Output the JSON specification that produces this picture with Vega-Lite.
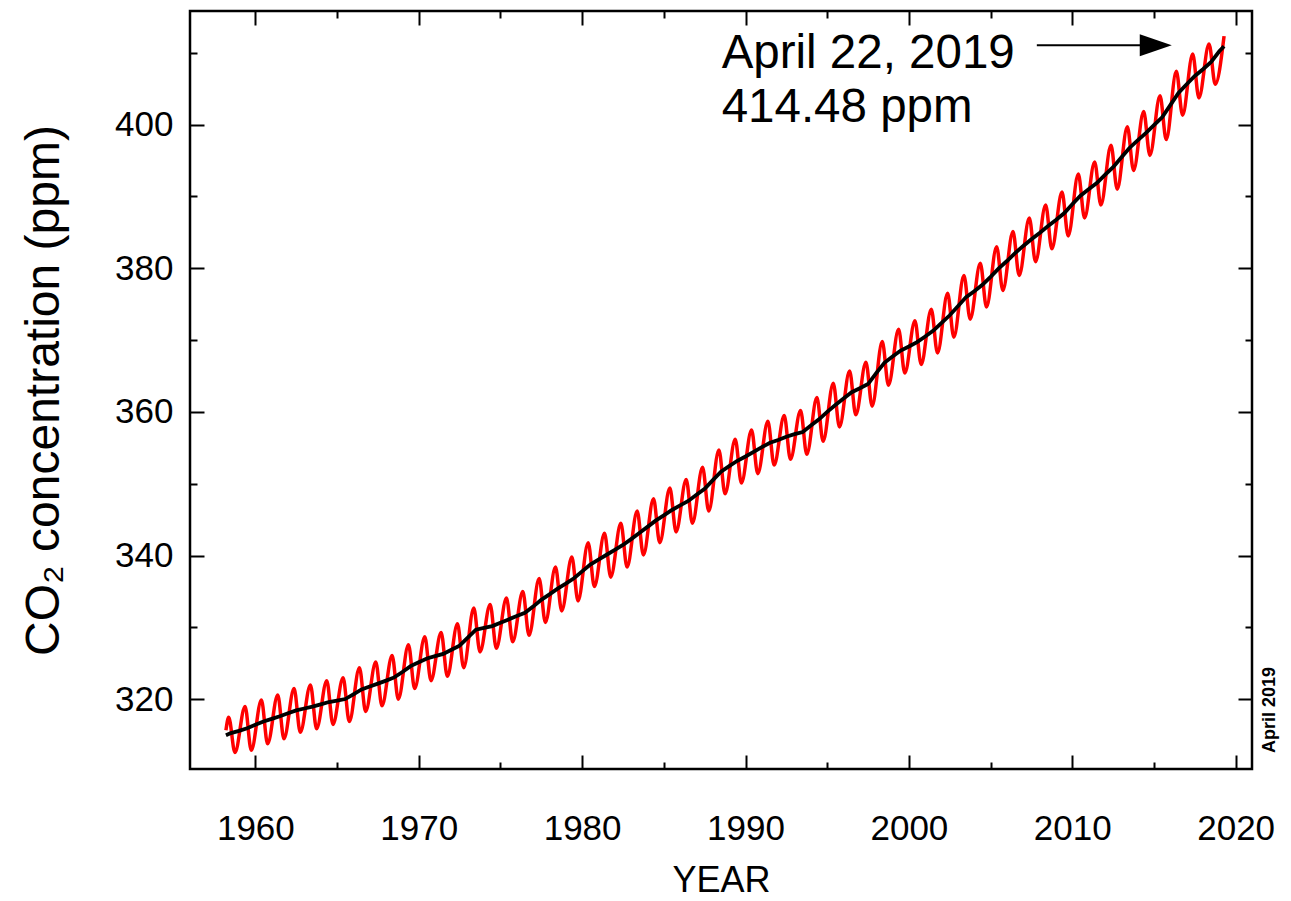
{
  "$schema": "https://vega.github.io/schema/vega-lite/v6.json",
  "width": 1062,
  "height": 758,
  "autosize": "none",
  "padding": {"left": 190, "top": 11, "right": 39, "bottom": 132},
  "background": "white",
  "config": {
    "view": {"stroke": "black", "strokeWidth": 2.5},
    "font": "Liberation Sans",
    "axis": {"labelColor": "black", "titleColor": "black", "tickColor": "black", "tickWidth": 2, "domain": false, "grid": false}
  },
  "datasets": {
    "red": [
      {"year": 1958.2, "co2": 315.7},
      {"year": 1958.37, "co2": 317.5}, {"year": 1958.75, "co2": 312.6},
      {"year": 1959.37, "co2": 319.0}, {"year": 1959.75, "co2": 312.9},
      {"year": 1960.37, "co2": 319.9}, {"year": 1960.75, "co2": 313.8},
      {"year": 1961.37, "co2": 320.6}, {"year": 1961.75, "co2": 314.5},
      {"year": 1962.37, "co2": 321.5}, {"year": 1962.75, "co2": 315.4},
      {"year": 1963.37, "co2": 322.0}, {"year": 1963.75, "co2": 315.9},
      {"year": 1964.37, "co2": 322.6}, {"year": 1964.75, "co2": 316.5},
      {"year": 1965.37, "co2": 323.0}, {"year": 1965.75, "co2": 316.9},
      {"year": 1966.37, "co2": 324.4}, {"year": 1966.75, "co2": 318.3},
      {"year": 1967.37, "co2": 325.2}, {"year": 1967.75, "co2": 319.1},
      {"year": 1968.37, "co2": 326.1}, {"year": 1968.75, "co2": 320.0},
      {"year": 1969.37, "co2": 327.6}, {"year": 1969.75, "co2": 321.5},
      {"year": 1970.37, "co2": 328.7}, {"year": 1970.75, "co2": 322.6},
      {"year": 1971.37, "co2": 329.3}, {"year": 1971.75, "co2": 323.2},
      {"year": 1972.37, "co2": 330.5}, {"year": 1972.75, "co2": 324.4},
      {"year": 1973.37, "co2": 332.7}, {"year": 1973.75, "co2": 326.6},
      {"year": 1974.37, "co2": 333.2}, {"year": 1974.75, "co2": 327.1},
      {"year": 1975.37, "co2": 334.1}, {"year": 1975.75, "co2": 328.0},
      {"year": 1976.37, "co2": 335.0}, {"year": 1976.75, "co2": 328.9},
      {"year": 1977.37, "co2": 336.8}, {"year": 1977.75, "co2": 330.7},
      {"year": 1978.37, "co2": 338.4}, {"year": 1978.75, "co2": 332.3},
      {"year": 1979.37, "co2": 339.8}, {"year": 1979.75, "co2": 333.7},
      {"year": 1980.37, "co2": 341.8}, {"year": 1980.75, "co2": 335.7},
      {"year": 1981.37, "co2": 343.1}, {"year": 1981.75, "co2": 337.0},
      {"year": 1982.37, "co2": 344.5}, {"year": 1982.75, "co2": 338.4},
      {"year": 1983.37, "co2": 346.2}, {"year": 1983.75, "co2": 340.1},
      {"year": 1984.37, "co2": 347.9}, {"year": 1984.75, "co2": 341.8},
      {"year": 1985.37, "co2": 349.4}, {"year": 1985.75, "co2": 343.3},
      {"year": 1986.37, "co2": 350.6}, {"year": 1986.75, "co2": 344.5},
      {"year": 1987.37, "co2": 352.3}, {"year": 1987.75, "co2": 346.2},
      {"year": 1988.37, "co2": 354.7}, {"year": 1988.75, "co2": 348.6},
      {"year": 1989.37, "co2": 356.2}, {"year": 1989.75, "co2": 350.1},
      {"year": 1990.37, "co2": 357.5}, {"year": 1990.75, "co2": 351.4},
      {"year": 1991.37, "co2": 358.7}, {"year": 1991.75, "co2": 352.6},
      {"year": 1992.37, "co2": 359.5}, {"year": 1992.75, "co2": 353.4},
      {"year": 1993.37, "co2": 360.2}, {"year": 1993.75, "co2": 354.1},
      {"year": 1994.37, "co2": 362.0}, {"year": 1994.75, "co2": 355.9},
      {"year": 1995.37, "co2": 364.0}, {"year": 1995.75, "co2": 357.9},
      {"year": 1996.37, "co2": 365.7}, {"year": 1996.75, "co2": 359.6},
      {"year": 1997.37, "co2": 366.9}, {"year": 1997.75, "co2": 360.8},
      {"year": 1998.37, "co2": 369.8}, {"year": 1998.75, "co2": 363.7},
      {"year": 1999.37, "co2": 371.5}, {"year": 1999.75, "co2": 365.4},
      {"year": 2000.37, "co2": 372.7}, {"year": 2000.75, "co2": 366.6},
      {"year": 2001.37, "co2": 374.3}, {"year": 2001.75, "co2": 368.2},
      {"year": 2002.37, "co2": 376.5}, {"year": 2002.75, "co2": 370.4},
      {"year": 2003.37, "co2": 379.0}, {"year": 2003.75, "co2": 372.9},
      {"year": 2004.37, "co2": 380.7}, {"year": 2004.75, "co2": 374.6},
      {"year": 2005.37, "co2": 383.0}, {"year": 2005.75, "co2": 376.9},
      {"year": 2006.37, "co2": 385.1}, {"year": 2006.75, "co2": 379.0},
      {"year": 2007.37, "co2": 387.0}, {"year": 2007.75, "co2": 380.9},
      {"year": 2008.37, "co2": 388.8}, {"year": 2008.75, "co2": 382.7},
      {"year": 2009.37, "co2": 390.6}, {"year": 2009.75, "co2": 384.5},
      {"year": 2010.37, "co2": 393.1}, {"year": 2010.75, "co2": 387.0},
      {"year": 2011.37, "co2": 394.8}, {"year": 2011.75, "co2": 388.8},
      {"year": 2012.37, "co2": 397.1}, {"year": 2012.75, "co2": 391.0},
      {"year": 2013.37, "co2": 399.7}, {"year": 2013.75, "co2": 393.6},
      {"year": 2014.37, "co2": 401.8}, {"year": 2014.75, "co2": 395.7},
      {"year": 2015.37, "co2": 404.0}, {"year": 2015.75, "co2": 397.9},
      {"year": 2016.37, "co2": 407.4}, {"year": 2016.75, "co2": 401.3},
      {"year": 2017.37, "co2": 409.8}, {"year": 2017.75, "co2": 403.7},
      {"year": 2018.37, "co2": 411.2}, {"year": 2018.75, "co2": 405.6},
      {"year": 2019.29, "co2": 412.3}
    ],
    "trend": [
      {"year": 1958.2, "co2": 315.0}, {"year": 1958.5, "co2": 315.3},
      {"year": 1959.0, "co2": 315.6}, {"year": 1959.5, "co2": 315.98},
      {"year": 1960.0, "co2": 316.45}, {"year": 1960.5, "co2": 316.91},
      {"year": 1961.0, "co2": 317.28}, {"year": 1961.5, "co2": 317.64},
      {"year": 1962.0, "co2": 318.05}, {"year": 1962.5, "co2": 318.45},
      {"year": 1963.0, "co2": 318.72}, {"year": 1963.5, "co2": 318.99},
      {"year": 1964.0, "co2": 319.3}, {"year": 1964.5, "co2": 319.62},
      {"year": 1965.0, "co2": 319.83}, {"year": 1965.5, "co2": 320.04},
      {"year": 1966.0, "co2": 320.7}, {"year": 1966.5, "co2": 321.37},
      {"year": 1967.0, "co2": 321.78}, {"year": 1967.5, "co2": 322.18},
      {"year": 1968.0, "co2": 322.6}, {"year": 1968.5, "co2": 323.05},
      {"year": 1969.0, "co2": 323.8}, {"year": 1969.5, "co2": 324.62},
      {"year": 1970.0, "co2": 325.15}, {"year": 1970.5, "co2": 325.68},
      {"year": 1971.0, "co2": 326.0}, {"year": 1971.5, "co2": 326.32},
      {"year": 1972.0, "co2": 326.9}, {"year": 1972.5, "co2": 327.46},
      {"year": 1973.0, "co2": 328.57}, {"year": 1973.5, "co2": 329.68},
      {"year": 1974.0, "co2": 329.93}, {"year": 1974.5, "co2": 330.19},
      {"year": 1975.0, "co2": 330.65}, {"year": 1975.5, "co2": 331.12},
      {"year": 1976.0, "co2": 331.58}, {"year": 1976.5, "co2": 332.03},
      {"year": 1977.0, "co2": 332.9}, {"year": 1977.5, "co2": 333.84},
      {"year": 1978.0, "co2": 334.6}, {"year": 1978.5, "co2": 335.41},
      {"year": 1979.0, "co2": 336.1}, {"year": 1979.5, "co2": 336.84},
      {"year": 1980.0, "co2": 337.8}, {"year": 1980.5, "co2": 338.76},
      {"year": 1981.0, "co2": 339.44}, {"year": 1981.5, "co2": 340.12},
      {"year": 1982.0, "co2": 340.8}, {"year": 1982.5, "co2": 341.48},
      {"year": 1983.0, "co2": 342.3}, {"year": 1983.5, "co2": 343.15},
      {"year": 1984.0, "co2": 344.0}, {"year": 1984.5, "co2": 344.87},
      {"year": 1985.0, "co2": 345.6}, {"year": 1985.5, "co2": 346.35},
      {"year": 1986.0, "co2": 347.0}, {"year": 1986.5, "co2": 347.61},
      {"year": 1987.0, "co2": 348.46}, {"year": 1987.5, "co2": 349.31},
      {"year": 1988.0, "co2": 350.5}, {"year": 1988.5, "co2": 351.69},
      {"year": 1989.0, "co2": 352.45}, {"year": 1989.5, "co2": 353.2},
      {"year": 1990.0, "co2": 353.8}, {"year": 1990.5, "co2": 354.45},
      {"year": 1991.0, "co2": 355.1}, {"year": 1991.5, "co2": 355.7},
      {"year": 1992.0, "co2": 356.1}, {"year": 1992.5, "co2": 356.54},
      {"year": 1993.0, "co2": 356.9}, {"year": 1993.5, "co2": 357.21},
      {"year": 1994.0, "co2": 358.1}, {"year": 1994.5, "co2": 358.96},
      {"year": 1995.0, "co2": 360.0}, {"year": 1995.5, "co2": 360.97},
      {"year": 1996.0, "co2": 361.85}, {"year": 1996.5, "co2": 362.74},
      {"year": 1997.0, "co2": 363.3}, {"year": 1997.5, "co2": 363.88},
      {"year": 1998.0, "co2": 365.4}, {"year": 1998.5, "co2": 366.84},
      {"year": 1999.0, "co2": 367.7}, {"year": 1999.5, "co2": 368.54},
      {"year": 2000.0, "co2": 369.1}, {"year": 2000.5, "co2": 369.71},
      {"year": 2001.0, "co2": 370.5}, {"year": 2001.5, "co2": 371.32},
      {"year": 2002.0, "co2": 372.4}, {"year": 2002.5, "co2": 373.45},
      {"year": 2003.0, "co2": 374.7}, {"year": 2003.5, "co2": 375.98},
      {"year": 2004.0, "co2": 376.8}, {"year": 2004.5, "co2": 377.7},
      {"year": 2005.0, "co2": 378.8}, {"year": 2005.5, "co2": 379.98},
      {"year": 2006.0, "co2": 381.0}, {"year": 2006.5, "co2": 382.09},
      {"year": 2007.0, "co2": 383.1}, {"year": 2007.5, "co2": 384.02},
      {"year": 2008.0, "co2": 384.9}, {"year": 2008.5, "co2": 385.83},
      {"year": 2009.0, "co2": 386.7}, {"year": 2009.5, "co2": 387.64},
      {"year": 2010.0, "co2": 388.9}, {"year": 2010.5, "co2": 390.1},
      {"year": 2011.0, "co2": 391.0}, {"year": 2011.5, "co2": 391.85},
      {"year": 2012.0, "co2": 393.0}, {"year": 2012.5, "co2": 394.06},
      {"year": 2013.0, "co2": 395.4}, {"year": 2013.5, "co2": 396.74},
      {"year": 2014.0, "co2": 397.8}, {"year": 2014.5, "co2": 398.81},
      {"year": 2015.0, "co2": 399.9}, {"year": 2015.5, "co2": 401.01},
      {"year": 2016.0, "co2": 402.7}, {"year": 2016.5, "co2": 404.41},
      {"year": 2017.0, "co2": 405.6}, {"year": 2017.5, "co2": 406.76},
      {"year": 2018.0, "co2": 407.7}, {"year": 2018.5, "co2": 408.72},
      {"year": 2019.0, "co2": 410.2}, {"year": 2019.29, "co2": 410.9}
    ]
  },
  "layer": [
    {
      "data": {"name": "red"},
      "mark": {"type": "line", "color": "#ff0000", "strokeWidth": 3.5, "interpolate": "monotone"},
      "encoding": {
        "x": {
          "field": "year", "type": "quantitative",
          "scale": {"domain": [1956, 2021], "nice": false, "zero": false},
          "axis": {
            "orient": "bottom",
            "values": [1960, 1965, 1970, 1975, 1980, 1985, 1990, 1995, 2000, 2005, 2010, 2015, 2020],
            "format": "d",
            "labelExpr": "datum.value % 10 === 0 ? datum.label : ''",
            "tickSize": {"condition": {"test": "datum.value % 10 === 0", "value": -14}, "value": -7},
            "labelFontSize": 35, "labelPadding": 56, "labelFlush": false,
            "title": "YEAR", "titleFontSize": 36, "titleFontWeight": "normal", "titlePadding": 17
          }
        },
        "y": {
          "field": "co2", "type": "quantitative",
          "scale": {"domain": [310.3, 415.8], "nice": false, "zero": false},
          "axis": {
            "orient": "left",
            "values": [320, 330, 340, 350, 360, 370, 380, 390, 400, 410],
            "format": "d",
            "labelExpr": "datum.value % 20 === 0 ? datum.label : ''",
            "tickSize": {"condition": {"test": "datum.value % 20 === 0", "value": -14}, "value": -7},
            "labelFontSize": 35, "labelPadding": 31, "labelFlush": false,
            "title": "CO₂ concentration (ppm)", "titleFontSize": 48, "titleFontWeight": "normal", "titlePadding": 46
          }
        }
      }
    },
    {
      "data": {"name": "trend"},
      "mark": {"type": "line", "color": "black", "strokeWidth": 3.8},
      "encoding": {
        "x": {
          "field": "year", "type": "quantitative",
          "axis": {
            "orient": "top",
            "values": [1960, 1965, 1970, 1975, 1980, 1985, 1990, 1995, 2000, 2005, 2010, 2015, 2020],
            "labels": false, "title": null,
            "tickSize": {"condition": {"test": "datum.value % 10 === 0", "value": -14}, "value": -7}
          }
        },
        "y": {
          "field": "co2", "type": "quantitative",
          "axis": {
            "orient": "right",
            "values": [320, 330, 340, 350, 360, 370, 380, 390, 400, 410],
            "labels": false, "title": null,
            "tickSize": {"condition": {"test": "datum.value % 20 === 0", "value": -14}, "value": -7}
          }
        }
      }
    },
    {
      "data": {"values": [{}]},
      "mark": {"type": "text", "text": "April 22, 2019", "font": "Liberation Sans", "fontSize": 47.5, "align": "left", "baseline": "alphabetic", "color": "black"},
      "encoding": {
        "x": {"datum": 1988.54, "type": "quantitative", "axis": null},
        "y": {"datum": 407.83, "type": "quantitative", "axis": null}
      }
    },
    {
      "data": {"values": [{}]},
      "mark": {"type": "text", "text": "414.48 ppm", "font": "Liberation Sans", "fontSize": 47.5, "align": "left", "baseline": "alphabetic", "color": "black"},
      "encoding": {
        "x": {"datum": 1988.54, "type": "quantitative", "axis": null},
        "y": {"datum": 400.36, "type": "quantitative", "axis": null}
      }
    },
    {
      "data": {"values": [{}]},
      "mark": {"type": "rule", "color": "black", "strokeWidth": 2},
      "encoding": {
        "x": {"datum": 2007.83, "type": "quantitative", "axis": null},
        "x2": {"datum": 2014.2},
        "y": {"datum": 411.03, "type": "quantitative", "axis": null}
      }
    },
    {
      "data": {"values": [{}]},
      "mark": {"type": "point", "shape": "M-1,-0.69L1,0L-1,0.69Z", "size": 1024, "filled": true, "color": "black", "opacity": 1},
      "encoding": {
        "x": {"datum": 2015.11, "type": "quantitative", "axis": null},
        "y": {"datum": 411.03, "type": "quantitative", "axis": null}
      }
    },
    {
      "data": {"values": [{}]},
      "mark": {"type": "text", "text": "April 2019", "font": "Liberation Sans", "fontSize": 18, "fontWeight": "bold", "angle": 270, "align": "center", "baseline": "middle", "color": "black"},
      "encoding": {
        "x": {"datum": 2022.09, "type": "quantitative", "axis": null},
        "y": {"datum": 318.5, "type": "quantitative", "axis": null}
      }
    }
  ],
  "resolve": {"axis": {"x": "independent", "y": "independent"}}
}
